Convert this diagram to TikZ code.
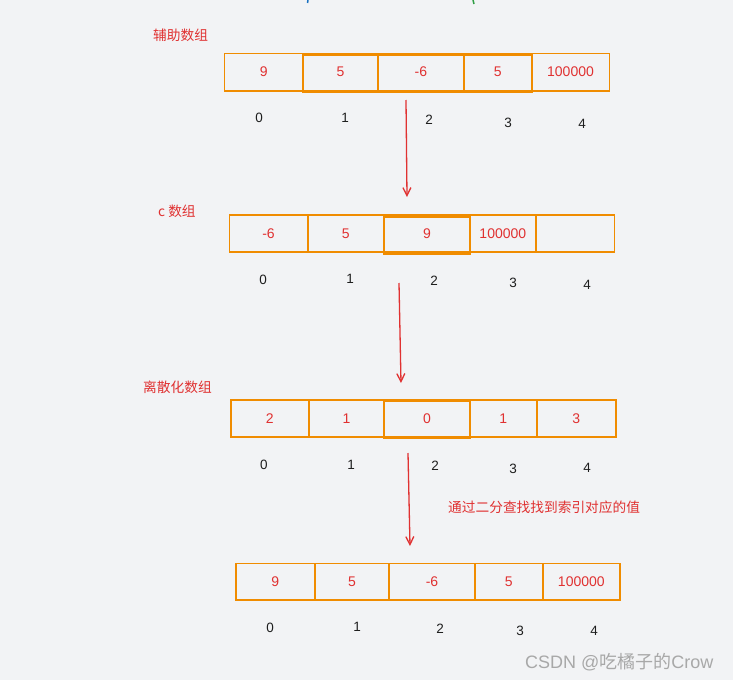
\documentclass[tikz,border=0pt]{standalone}
\usepackage{fontspec}
\setmainfont{Liberation Sans}
\newfontfamily\cjk{Noto Sans CJK SC}
\usetikzlibrary{arrows.meta}
\definecolor{bg}{HTML}{F2F3F5}
\definecolor{orng}{HTML}{F08C00}
\definecolor{rd}{HTML}{E03131}
\definecolor{ink}{HTML}{1E1E1E}
\definecolor{wm}{HTML}{A8A8A8}
\definecolor{tipblue}{HTML}{1971C2}
\definecolor{tipgreen}{HTML}{2F9E44}
\newcommand\mkcell[6]{\node[cell, minimum width={(#3)-(#2)}, minimum height={(#5)-(#4)}] (#1) at ({((#2)+(#3))/2},{((#4)+(#5))/2}) {#6};}
\begin{document}
\begin{tikzpicture}[x=1pt,y=-1pt,
  cell/.style={draw=orng, line width=1.6pt, rectangle, inner sep=0pt, text=rd, font=\fontsize{14}{15}\selectfont},
  idx/.style={text=ink, font=\fontsize{13.5}{14}\selectfont, inner sep=0pt},
  hl/.style={draw=orng, line width=2pt},
  lbl/.style={text=rd, font=\cjk\fontsize{13.7}{15}\selectfont, anchor=west, inner sep=0pt},
  flow/.style={draw=rd, line width=1.3pt, -{Straight Barb[length=8pt,width=8pt]}}]
\fill[bg] (0,0) rectangle (733,680);
\useasboundingbox (0,0) rectangle (733,680);
% cut-off strokes at the top edge
\draw[tipblue, line width=1.5pt] (308,0) -- (307.5,3);
\draw[tipgreen, line width=1.5pt] (473,0) -- (474,4);

% ---- array 1: auxiliary array
\node[lbl] (l1) at (153,35) {辅助数组};
\mkcell{a0}{224.3}{303.3}{53.5}{90.7}{9}
\mkcell{a1}{303.3}{377.7}{53.5}{90.7}{5}
\mkcell{a2}{377.7}{464}{53.5}{90.7}{-6}
\mkcell{a3}{464}{531.7}{53.5}{90.7}{5}
\mkcell{a4}{531.7}{609.3}{53.5}{90.7}{100000}
\draw[hl] (303.3,55) rectangle (531.7,92);
\node[idx] (ai0) at (259,118) {0};
\node[idx] (ai1) at (345,118) {1};
\node[idx] (ai2) at (429,120) {2};
\node[idx] (ai3) at (508,123) {3};
\node[idx] (ai4) at (582,124) {4};

% ---- array 2: c array
\node[lbl] (l2) at (158,211) {c 数组};
\mkcell{b0}{229.3}{307.7}{215}{251.7}{-6}
\mkcell{b1}{307.7}{384}{215}{251.7}{5}
\mkcell{b2}{384}{470}{215}{251.7}{9}
\mkcell{b3}{470}{535.7}{215}{251.7}{100000}
\mkcell{b4}{535.7}{614.3}{215}{251.7}{}
\draw[hl] (384,217) rectangle (470,254);
\node[idx] (bi0) at (263,280) {0};
\node[idx] (bi1) at (350,279) {1};
\node[idx] (bi2) at (434,281) {2};
\node[idx] (bi3) at (513,283) {3};
\node[idx] (bi4) at (587,285) {4};

% ---- array 3: discretized array
\node[lbl] (l3) at (143,387) {离散化数组};
\mkcell{c0}{230.7}{309}{400}{436.7}{2}
\mkcell{c1}{309}{384}{400}{436.7}{1}
\mkcell{c2}{384}{470}{400}{436.7}{0}
\mkcell{c3}{470}{536.7}{400}{436.7}{1}
\mkcell{c4}{536.7}{615.7}{400}{436.7}{3}
\draw[hl] (384,401) rectangle (470,438);
\node[idx] (ci0) at (264,465) {0};
\node[idx] (ci1) at (351,465) {1};
\node[idx] (ci2) at (435,466) {2};
\node[idx] (ci3) at (513,469) {3};
\node[idx] (ci4) at (587,468) {4};
\node[lbl] (l4) at (448,507) {通过二分查找找到索引对应的值};

% ---- array 4: result
\mkcell{d0}{235.7}{315}{563.3}{600}{9}
\mkcell{d1}{315}{389}{563.3}{600}{5}
\mkcell{d2}{389}{475}{563.3}{600}{-6}
\mkcell{d3}{475}{542.7}{563.3}{600}{5}
\mkcell{d4}{542.7}{620}{563.3}{600}{100000}
\node[idx] (di0) at (270,628) {0};
\node[idx] (di1) at (357,627) {1};
\node[idx] (di2) at (440,629) {2};
\node[idx] (di3) at (520,631) {3};
\node[idx] (di4) at (594,631) {4};

% ---- arrows
\coordinate (s1) at (406,100); \coordinate (e1) at (407,197);
\coordinate (s2) at (399,283); \coordinate (e2) at (401,383);
\coordinate (s3) at (408,453); \coordinate (e3) at (410,546);
\draw[flow] (s1) -- (e1);
\draw[flow] (s2) -- (e2);
\draw[flow] (s3) -- (e3);

% watermark
\node[text=wm, font=\fontsize{18}{20}\selectfont, anchor=west, inner sep=0pt] (wmk) at (525,662) {CSDN @{\cjk 吃橘子的}Crow};
\end{tikzpicture}
\end{document}
